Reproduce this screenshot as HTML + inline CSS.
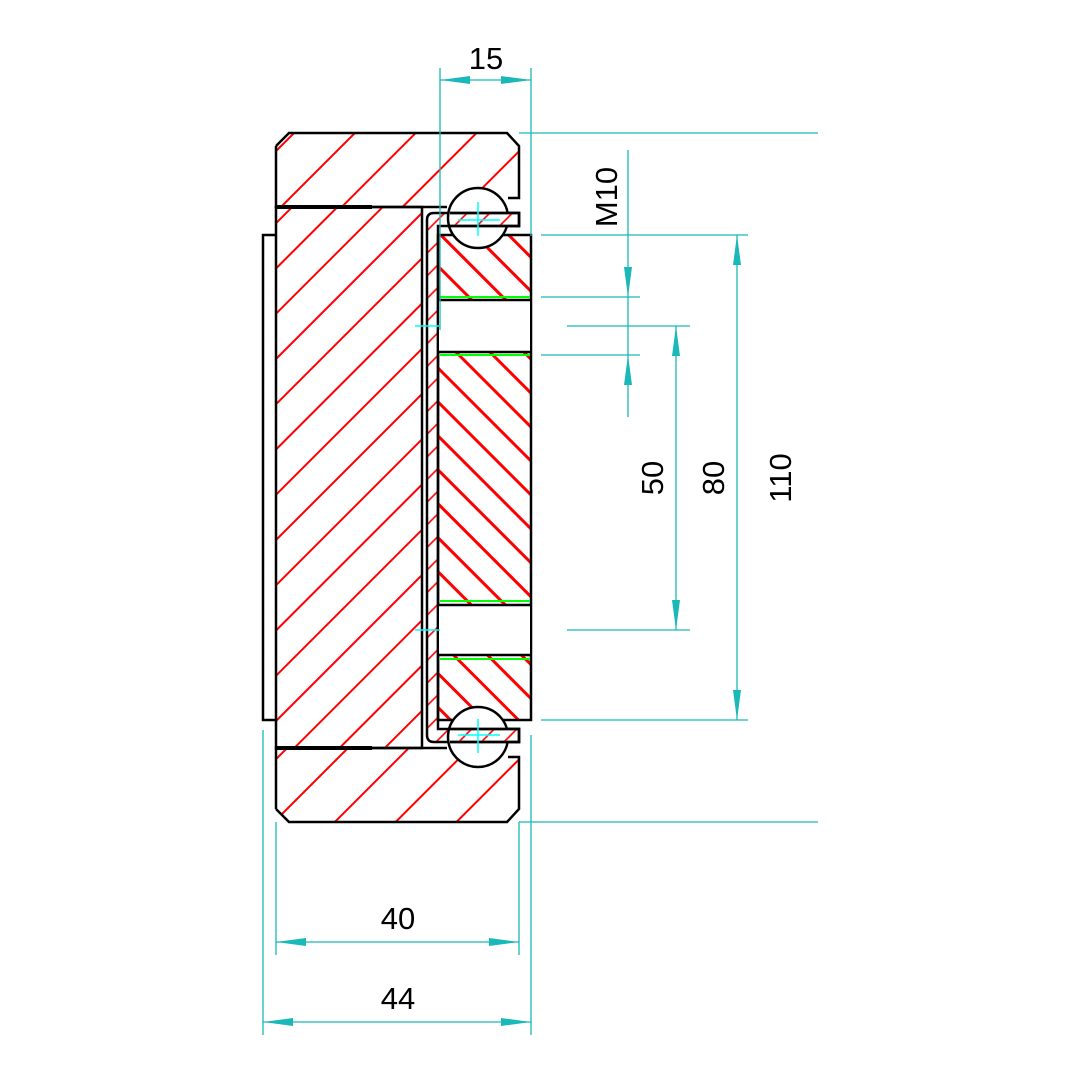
<!DOCTYPE html>
<html><head><meta charset="utf-8"><style>html,body{margin:0;padding:0;background:#fff}svg{display:block}</style></head><body>
<svg width="1080" height="1080" viewBox="0 0 1080 1080" xmlns="http://www.w3.org/2000/svg" font-family="Liberation Sans, sans-serif">
<defs>
<pattern id="h1" width="43" height="43" patternUnits="userSpaceOnUse" patternTransform="rotate(45 0 0)"><line x1="1" y1="0" x2="1" y2="43" stroke="#f00" stroke-width="2"/></pattern>
<pattern id="h2" width="32" height="32" patternUnits="userSpaceOnUse" patternTransform="rotate(45 0 0)"><line x1="1" y1="0" x2="1" y2="32" stroke="#f00" stroke-width="2"/></pattern>
<pattern id="h3" width="16" height="16" patternUnits="userSpaceOnUse" patternTransform="rotate(45 0 0)"><line x1="1" y1="0" x2="1" y2="16" stroke="#f00" stroke-width="1.6"/></pattern>
<pattern id="h4" width="24" height="24" patternUnits="userSpaceOnUse" patternTransform="rotate(-45 0 0)"><line x1="1.5" y1="0" x2="1.5" y2="24" stroke="#f00" stroke-width="3"/></pattern>
</defs>
<g stroke="#000" stroke-width="2.5">
<path d="M276,146 L289,133 L507,133 L519,146 L519,198 L500,198 L480,207 L276,207 Z" fill="url(#h1)" stroke="none"/>
<path d="M276,146 L289,133 L507,133 L519,146 L519,198 L508,198 M447,207 L276,207 L276,146" fill="none"/>
<path d="M276,809 L289,822 L507,822 L519,809 L519,757 L500,757 L480,748 L276,748 Z" fill="url(#h1)" stroke="none"/>
<path d="M276,809 L289,822 L507,822 L519,809 L519,757 L508,757 M447,748 L276,748 L276,809" fill="none"/>
<rect x="276" y="207" width="146" height="541" fill="url(#h2)"/>
<line x1="276" y1="207" x2="372" y2="207" stroke-width="4"/>
<line x1="276" y1="748" x2="372" y2="748" stroke-width="4"/>
<path d="M276,235 L263,235 L263,720 L276,720" fill="none"/>
<path d="M434,213 L519,213 L519,226 L438,226 L438,729 L519,729 L519,742 L434,742 Q427,742 427,735 L427,220 Q427,213 434,213 Z" fill="url(#h3)"/>
<rect x="438" y="235" width="93" height="485" fill="url(#h4)"/>
<rect x="439" y="300" width="91" height="52" fill="#fff" stroke="none"/>
<rect x="439" y="605" width="91" height="50" fill="#fff" stroke="none"/>
<line x1="438" y1="300" x2="531" y2="300"/><line x1="438" y1="352" x2="531" y2="352"/>
<line x1="438" y1="605" x2="531" y2="605"/><line x1="438" y1="655" x2="531" y2="655"/>
<circle cx="478" cy="218" r="30" fill="#fff"/>
<circle cx="478" cy="737" r="30" fill="#fff"/>
<path d="M450,213 L519,213 L519,226 L450,226" fill="#fff"/>
<path d="M450,213 L519,213 L519,226 L450,226" fill="url(#h3)"/>
<path d="M450,742 L519,742 L519,729 L450,729" fill="#fff"/>
<path d="M450,742 L519,742 L519,729 L450,729" fill="url(#h3)"/>
</g>
<g stroke="#0f0" stroke-width="2"><line x1="440" y1="297" x2="530" y2="297"/><line x1="440" y1="355" x2="530" y2="355"/><line x1="440" y1="601" x2="530" y2="601"/><line x1="440" y1="659" x2="530" y2="659"/></g>
<g stroke="#0ff" stroke-width="1.5"><line x1="478" y1="202" x2="478" y2="236"/><line x1="458" y1="220" x2="500" y2="220"/><line x1="478" y1="719" x2="478" y2="753"/><line x1="458" y1="735" x2="500" y2="735"/><line x1="415" y1="326" x2="440" y2="326"/><line x1="415" y1="630" x2="440" y2="630"/></g>
<g stroke="#1ab8b8" stroke-width="1.3" fill="none">
<line x1="440" y1="68" x2="440" y2="330"/><line x1="531" y1="68" x2="531" y2="236"/><line x1="440" y1="80" x2="531" y2="80"/>
<line x1="519" y1="133" x2="818" y2="133"/><line x1="519" y1="822" x2="818" y2="822"/>
<line x1="541" y1="235" x2="748" y2="235"/><line x1="541" y1="720" x2="748" y2="720"/>
<line x1="541" y1="297" x2="640" y2="297"/><line x1="541" y1="355" x2="640" y2="355"/>
<line x1="567" y1="326" x2="690" y2="326"/><line x1="567" y1="630" x2="690" y2="630"/>
<line x1="628" y1="150" x2="628" y2="417"/><line x1="676" y1="326" x2="676" y2="630"/><line x1="737" y1="235" x2="737" y2="720"/>
<line x1="276" y1="822" x2="276" y2="955"/><line x1="519" y1="822" x2="519" y2="955"/><line x1="276" y1="942" x2="519" y2="942"/>
<line x1="263" y1="730" x2="263" y2="1035"/><line x1="531" y1="735" x2="531" y2="1035"/><line x1="263" y1="1022" x2="531" y2="1022"/>
</g>
<g fill="#1ab8b8">
<path d="M440,80 L470,76 L470,84Z"/><path d="M531,80 L501,76 L501,84Z"/>
<path d="M628,297 L624,267 L632,267Z"/><path d="M628,355 L624,385 L632,385Z"/>
<path d="M676,326 L672,356 L680,356Z"/><path d="M676,630 L672,600 L680,600Z"/>
<path d="M737,235 L733,265 L741,265Z"/><path d="M737,720 L733,690 L741,690Z"/>
<path d="M276,942 L306,938 L306,946Z"/><path d="M519,942 L489,938 L489,946Z"/>
<path d="M263,1022 L293,1018 L293,1026Z"/><path d="M531,1022 L501,1018 L501,1026Z"/>
</g>
<g font-size="31" fill="#000" text-anchor="middle">
<text x="486" y="69">15</text>
<text x="398" y="929">40</text>
<text x="398" y="1009">44</text>
<text transform="translate(617,197) rotate(-90)">M10</text>
<text transform="translate(663,478) rotate(-90)">50</text>
<text transform="translate(724,478) rotate(-90)">80</text>
<text transform="translate(791,478) rotate(-90)">110</text>
</g>
</svg>
</body></html>
